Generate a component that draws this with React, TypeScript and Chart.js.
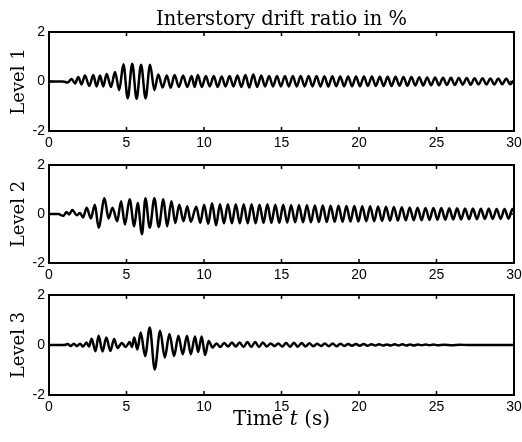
import React, { useEffect, useRef } from "react";
import { Chart, registerables } from "chart.js";

Chart.register(...registerables);

const TITLE = "Interstory drift ratio in %";
const X_TITLE_PARTS: [string, boolean][] = [["Time ", false], ["t", true], [" (s)", false]];
const LEVEL_LABELS = ["Level 1", "Level 2", "Level 3"];
const X_TICKS = [0, 5, 10, 15, 20, 25, 30];
const Y_TICKS = [-2, 0, 2];

// [time (s), drift ratio (%)] read at the extrema of each oscillation
const LEVEL1: [number, number][] = [
  [0, 0], [0.9, 0], [1.2, -0.04], [1.46, 0.1], [1.68, -0.08], [1.89, 0.18], [2.1, -0.12], [2.32, 0.24],
  [2.6, -0.18], [2.86, 0.26], [3.07, -0.2], [3.29, 0.24], [3.5, -0.2], [3.72, 0.3], [4.0, -0.22], [4.26, 0.38],
  [4.53, -0.35], [4.8, 0.7], [5.08, -0.68], [5.37, 0.72], [5.65, -0.7], [5.94, 0.68], [6.23, -0.68], [6.52, 0.68],
  [6.8, -0.35], [7.05, 0.28], [7.33, -0.24], [7.6, 0.24], [7.85, -0.25], [8.1, 0.26], [8.38, -0.22], [8.65, 0.24],
  [8.92, -0.22], [9.2, 0.22], [9.4, -0.22], [9.6, 0.26], [9.86, -0.22], [10.12, 0.22], [10.37, -0.2], [10.63, 0.22],
  [10.88, -0.22], [11.14, 0.2], [11.39, -0.2], [11.65, 0.22], [11.9, -0.2], [12.16, 0.24], [12.41, -0.22], [12.67, 0.26],
  [12.92, -0.24], [13.18, 0.28], [13.43, -0.22], [13.69, 0.24], [13.94, -0.2], [14.2, 0.22], [14.45, -0.2], [14.71, 0.22],
  [14.96, -0.2], [15.22, 0.22], [15.47, -0.2], [15.73, 0.22], [15.98, -0.2], [16.24, 0.22], [16.49, -0.2], [16.75, 0.22],
  [17.0, -0.2], [17.26, 0.22], [17.51, -0.2], [17.77, 0.21], [18.02, -0.2], [18.28, 0.21], [18.53, -0.19], [18.79, 0.2],
  [19.04, -0.19], [19.3, 0.2], [19.55, -0.19], [19.81, 0.2], [20.06, -0.19], [20.32, 0.2], [20.57, -0.18], [20.83, 0.2],
  [21.08, -0.18], [21.34, 0.19], [21.59, -0.18], [21.85, 0.19], [22.1, -0.18], [22.36, 0.19], [22.61, -0.17], [22.87, 0.18],
  [23.12, -0.17], [23.38, 0.18], [23.63, -0.16], [23.89, 0.17], [24.14, -0.16], [24.4, 0.16], [24.65, -0.15], [24.91, 0.16],
  [25.16, -0.15], [25.42, 0.15], [25.67, -0.14], [25.93, 0.15], [26.18, -0.14], [26.44, 0.14], [26.69, -0.13], [26.95, 0.14],
  [27.2, -0.13], [27.46, 0.13], [27.71, -0.12], [27.97, 0.13], [28.22, -0.12], [28.48, 0.12], [28.73, -0.12], [28.99, 0.12],
  [29.24, -0.11], [29.5, 0.12], [29.75, -0.11], [30, 0.04],
];

const LEVEL2: [number, number][] = [
  [0, 0], [0.6, 0], [0.92, -0.08], [1.13, 0.08], [1.3, -0.02], [1.5, 0.16], [1.8, -0.05], [2.0, 0.04],
  [2.2, -0.14], [2.43, 0.26], [2.7, -0.18], [2.96, 0.38], [3.2, -0.56], [3.58, 0.64], [3.84, -0.18], [4.1, 0.26],
  [4.4, -0.3], [4.65, 0.52], [4.9, -0.43], [5.2, 0.6], [5.5, -0.5], [5.72, 0.45], [6.0, -0.83], [6.22, 0.64],
  [6.5, -0.56], [6.8, 0.64], [7.08, -0.53], [7.38, 0.6], [7.62, -0.5], [7.9, 0.52], [8.15, -0.37], [8.4, 0.38],
  [8.68, -0.3], [8.92, 0.32], [9.15, -0.32], [9.5, 0.3], [9.76, -0.36], [10.01, 0.38], [10.27, -0.4], [10.52, 0.44],
  [10.78, -0.46], [11.03, 0.4], [11.29, -0.38], [11.54, 0.4], [11.8, -0.38], [12.05, 0.4], [12.31, -0.38], [12.56, 0.4],
  [12.82, -0.38], [13.07, 0.4], [13.33, -0.38], [13.58, 0.38], [13.84, -0.36], [14.09, 0.4], [14.35, -0.36], [14.6, 0.38],
  [14.86, -0.36], [15.11, 0.38], [15.37, -0.35], [15.62, 0.36], [15.88, -0.34], [16.13, 0.36], [16.39, -0.34], [16.64, 0.36],
  [16.9, -0.34], [17.15, 0.35], [17.41, -0.33], [17.66, 0.35], [17.92, -0.33], [18.17, 0.34], [18.43, -0.32], [18.68, 0.34],
  [18.94, -0.32], [19.19, 0.33], [19.45, -0.31], [19.7, 0.33], [19.96, -0.31], [20.21, 0.32], [20.47, -0.3], [20.72, 0.32],
  [20.98, -0.3], [21.23, 0.31], [21.49, -0.29], [21.74, 0.3], [22.0, -0.28], [22.25, 0.29], [22.51, -0.27], [22.76, 0.28],
  [23.02, -0.26], [23.27, 0.27], [23.53, -0.25], [23.78, 0.26], [24.04, -0.25], [24.29, 0.25], [24.55, -0.24], [24.8, 0.25],
  [25.06, -0.23], [25.31, 0.24], [25.57, -0.23], [25.82, 0.23], [26.08, -0.22], [26.33, 0.23], [26.59, -0.22], [26.84, 0.22],
  [27.1, -0.21], [27.35, 0.22], [27.61, -0.21], [27.86, 0.21], [28.12, -0.2], [28.37, 0.21], [28.63, -0.2], [28.88, 0.2],
  [29.14, -0.2], [29.39, 0.2], [29.65, -0.19], [29.9, 0.2], [30, 0.1],
];

const LEVEL3: [number, number][] = [
  [0, 0], [1.0, 0], [1.2, 0.04], [1.4, -0.04], [1.6, 0.05], [1.8, -0.04], [2.0, 0.05], [2.2, -0.06],
  [2.42, 0.1], [2.58, -0.06], [2.75, 0.25], [3.0, -0.25], [3.2, 0.37], [3.45, -0.26], [3.7, 0.3], [3.96, -0.24],
  [4.2, 0.24], [4.42, -0.12], [4.7, 0.08], [4.95, -0.08], [5.2, 0.12], [5.35, -0.08], [5.5, 0.3], [5.7, -0.18],
  [5.92, 0.5], [6.2, -0.44], [6.5, 0.7], [6.82, -0.98], [7.17, 0.57], [7.47, -0.5], [7.77, 0.44], [8.07, -0.44],
  [8.35, 0.37], [8.63, -0.37], [8.9, 0.37], [9.15, -0.37], [9.42, 0.34], [9.62, -0.28], [9.85, 0.34], [10.07, -0.4],
  [10.3, 0.16], [10.55, -0.1], [10.8, 0.06], [11.05, -0.08], [11.3, 0.08], [11.55, -0.06], [11.8, 0.1], [12.05, -0.06],
  [12.3, 0.1], [12.55, -0.08], [12.8, 0.12], [13.05, -0.08], [13.3, 0.12], [13.55, -0.08], [13.8, 0.1], [14.05, -0.06],
  [14.3, 0.06], [14.55, -0.04], [14.8, 0.06], [15.05, -0.06], [15.3, 0.08], [15.55, -0.07], [15.8, 0.09], [16.05, -0.07],
  [16.3, 0.08], [16.55, -0.06], [16.8, 0.07], [17.05, -0.05], [17.3, 0.05], [17.55, -0.04], [17.8, 0.06], [18.05, -0.05],
  [18.3, 0.06], [18.55, -0.05], [18.8, 0.05], [19.05, -0.04], [19.3, 0.04], [19.55, -0.03], [19.8, 0.04], [20.05, -0.03],
  [20.3, 0.04], [20.55, -0.03], [20.8, 0.03], [21.05, -0.02], [21.3, 0.03], [21.55, -0.02], [21.8, 0.02], [22.05, -0.02],
  [22.3, 0.03], [22.55, -0.02], [22.8, 0.03], [23.05, -0.02], [23.3, 0.02], [23.55, -0.02], [23.8, 0.02], [24.05, -0.01],
  [24.3, 0.02], [24.55, -0.01], [24.8, 0.02], [25.05, -0.01], [25.5, 0.01], [26.0, -0.01], [26.5, 0.01], [27.0, 0],
  [28.0, 0], [29.0, 0], [30, 0],
];

const SERIES = [LEVEL1, LEVEL2, LEVEL3];

const SERIF = '"DejaVu Serif", serif';
const SANS = '"Liberation Sans", Arial, sans-serif';

const PANELS = [
  { top: 0, height: 150, padTop: 32, bottom: 131 },
  { top: 150, height: 132, padTop: 15, bottom: 263 },
  { top: 282, height: 160, padTop: 13, bottom: 395 },
];

const framePlugin = {
  id: "frame",
  afterDraw(chart: any) {
    const { ctx, chartArea, scales } = chart;
    const { left, right, top, bottom } = chartArea;
    ctx.save();
    ctx.strokeStyle = "#000";
    ctx.lineWidth = 2;
    ctx.strokeRect(left, top, right - left, bottom - top);
    ctx.lineWidth = 1.5;
    const len = 4;
    ctx.beginPath();
    for (const v of X_TICKS) {
      const px = scales.x.getPixelForValue(v);
      ctx.moveTo(px, bottom);
      ctx.lineTo(px, bottom - len);
      ctx.moveTo(px, top);
      ctx.lineTo(px, top + len);
    }
    for (const v of Y_TICKS) {
      const py = scales.y.getPixelForValue(v);
      ctx.moveTo(left, py);
      ctx.lineTo(left + len, py);
      ctx.moveTo(right, py);
      ctx.lineTo(right - len, py);
    }
    ctx.stroke();
    ctx.restore();
  },
};

const titlePlugin = {
  id: "topTitle",
  afterDraw(chart: any) {
    const { ctx, chartArea } = chart;
    ctx.save();
    ctx.fillStyle = "#000";
    ctx.font = `19.5px ${SERIF}`;
    ctx.textAlign = "center";
    ctx.textBaseline = "alphabetic";
    ctx.fillText(TITLE, (chartArea.left + chartArea.right) / 2, 25);
    ctx.restore();
  },
};

const xTitlePlugin = {
  id: "xTitle",
  afterDraw(chart: any) {
    const { ctx, chartArea } = chart;
    ctx.save();
    ctx.fillStyle = "#000";
    ctx.textAlign = "left";
    ctx.textBaseline = "alphabetic";
    const fonts = X_TITLE_PARTS.map(([, it]) => `${it ? "italic " : ""}20px ${SERIF}`);
    let total = 0;
    const widths = X_TITLE_PARTS.map(([txt], i) => {
      ctx.font = fonts[i];
      const w = ctx.measureText(txt).width;
      total += w;
      return w;
    });
    let x = (chartArea.left + chartArea.right) / 2 - total / 2;
    const y = 425 - 282;
    X_TITLE_PARTS.forEach(([txt], i) => {
      ctx.font = fonts[i];
      ctx.fillText(txt, x, y);
      x += widths[i];
    });
    ctx.restore();
  },
};

function Panel({ index }: { index: number }) {
  const ref = useRef<HTMLCanvasElement | null>(null);
  const p = PANELS[index];
  useEffect(() => {
    if (!ref.current) return;
    const xHeight = p.top + p.height - p.bottom;
    const plugins: any[] = [framePlugin];
    if (index === 0) plugins.push(titlePlugin);
    if (index === 2) plugins.push(xTitlePlugin);
    const chart = new Chart(ref.current, {
      type: "line",
      data: {
        datasets: [
          {
            data: SERIES[index].map(([t, v]) => ({ x: t, y: v })),
            borderColor: "#000",
            borderWidth: 2.5,
            pointRadius: 0,
            fill: false,
            cubicInterpolationMode: "monotone",
            borderJoinStyle: "round",
          } as any,
        ],
      },
      options: {
        animation: false,
        responsive: false,
        layout: { padding: { top: p.padTop, right: 8, left: 0, bottom: 0 } },
        plugins: { legend: { display: false }, tooltip: { enabled: false }, title: { display: false } },
        scales: {
          x: {
            type: "linear",
            min: 0,
            max: 30,
            afterBuildTicks: (s: any) => {
              s.ticks = X_TICKS.map((v) => ({ value: v }));
            },
            ticks: {
              font: { family: SANS, size: 14 },
              color: "#000",
              padding: 4,
              maxRotation: 0,
              autoSkip: false,
              callback: (v: any) => String(v),
            },
            grid: { display: false, drawTicks: false },
            border: { display: false },
            afterFit: (s: any) => {
              s.height = xHeight;
              s.paddingLeft = 0;
              s.paddingRight = 0;
            },
          },
          y: {
            type: "linear",
            min: -2,
            max: 2,
            afterBuildTicks: (s: any) => {
              s.ticks = Y_TICKS.map((v) => ({ value: v }));
            },
            ticks: {
              font: { family: SANS, size: 14 },
              color: "#000",
              padding: 4,
              callback: (v: any) => String(v),
            },
            grid: { display: false, drawTicks: false },
            border: { display: false },
            title: {
              display: true,
              text: LEVEL_LABELS[index],
              font: { family: SERIF, size: 18 },
              color: "#000",
              padding: { top: 9, bottom: 0 },
            },
            afterFit: (s: any) => {
              s.width = 49;
              s.paddingTop = 0;
              s.paddingBottom = 0;
            },
          },
        },
      } as any,
      plugins,
    });
    return () => chart.destroy();
  }, [index]);
  return (
    <canvas
      ref={ref}
      width={522}
      height={p.height}
      style={{ position: "absolute", left: 0, top: p.top, width: 522, height: p.height }}
    />
  );
}

export default function App() {
  return (
    <div style={{ position: "absolute", left: 0, top: 0, width: 522, height: 442, background: "#fff" }}>
      {PANELS.map((_, i) => (
        <Panel key={i} index={i} />
      ))}
    </div>
  );
}
